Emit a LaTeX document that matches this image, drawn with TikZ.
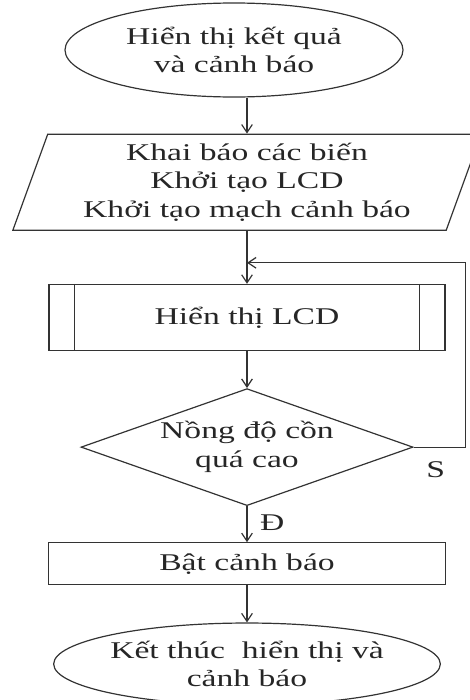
\documentclass[tikz,border=0pt]{standalone}
\usepackage{fontspec}
\setmainfont{Liberation Serif}[FakeStretch=1.4]
\usepackage{tikz}
\usetikzlibrary{arrows.meta,positioning,shapes.geometric}

\begin{document}
\begin{tikzpicture}[
    node distance=27pt,
    every node/.style={font=\fontsize{18}{21.5}\selectfont, text=black!85},
    term/.style={draw, ellipse, align=center, inner sep=0pt},
    io/.style={draw, trapezium, trapezium left angle=70, trapezium right angle=110, align=center, minimum width=341pt, minimum height=72pt, inner sep=0pt},
    sub/.style={draw, rectangle, align=center, minimum width=297pt, minimum height=49.5pt},
    dec/.style={draw, diamond, align=center, minimum width=249pt, minimum height=87.75pt, inner sep=0pt, aspect=2.84},
    proc/.style={draw, rectangle, align=center, minimum width=297.75pt, minimum height=31.5pt},
    arr/.style={-{Straight Barb[length=6pt,width=8pt]}, line width=0.9pt},
    line width=0.9pt, draw=black!80
]
\useasboundingbox (0,0) rectangle (351.75pt,-525pt);
\node[term, minimum width=253.5pt, minimum height=70.5pt] (start) at (175.5pt,-37.5pt) {Hiển thị kết quả\\và cảnh báo};
\node[io, below=27pt of start, xshift=9.75pt] (init) {Khai báo các biến\\Khởi tạo LCD\\Khởi tạo mạch cảnh báo};
\node[sub, below=39.75pt of init] (lcd) {Hiển thị LCD};
\node[dec, below=27.75pt of lcd] (cond) {Nồng độ cồn\\quá cao};
\node[proc, below=of cond] (alarm) {Bật cảnh báo};
\node[term, minimum width=259.5pt, minimum height=61.5pt, below=27.75pt of alarm] (stop) {Kết thúc\ \ hiển thị và\\cảnh báo};
% predefined process bars
\draw ([xshift=19.5pt]lcd.north west) -- ([xshift=19.5pt]lcd.south west);
\draw ([xshift=-19.5pt]lcd.north east) -- ([xshift=-19.5pt]lcd.south east);
\coordinate (merge) at ([yshift=-24pt]init.south);
\draw[arr] (start.south -| init.north) -- (init.north);
\draw[arr] (init.south) -- (lcd.north);
\draw[arr] (lcd.south) -- (cond.north);
\draw[arr] (cond.south) -- node[right=6pt, pos=0.45] (yes) {Đ} (alarm.north);
\draw[arr] (alarm.south) -- (stop.north);
% loop back
\draw[arr] (cond.east) -- ++(39pt,0) |- (merge);
\node at ([xshift=16.5pt, yshift=-17pt]cond.east) (no) {S};
\end{tikzpicture}
\end{document}
